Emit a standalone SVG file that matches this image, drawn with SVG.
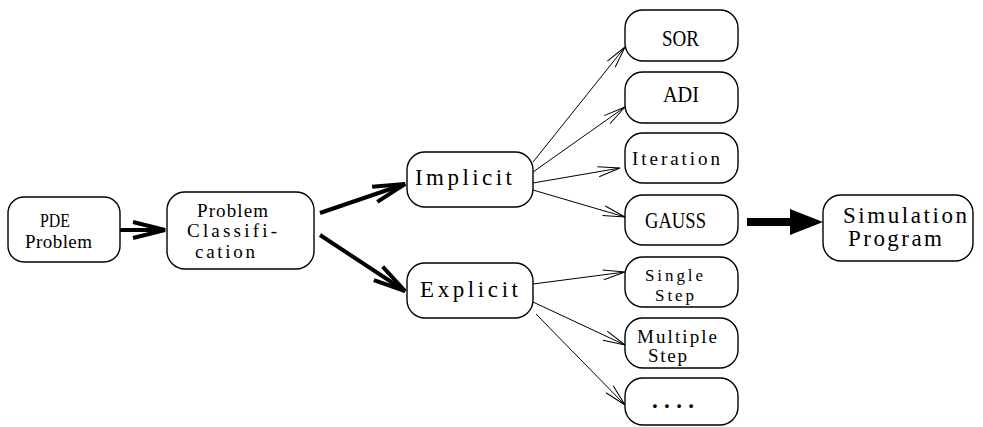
<svg xmlns="http://www.w3.org/2000/svg" width="983" height="427" viewBox="0 0 983 427">
<defs>
<style>
.box{fill:#fff;stroke:#000;stroke-width:1.4}
.t{font-family:"Liberation Serif","Times New Roman",serif;fill:#000}
.big{font-size:23px}
.sm{font-size:19px}
.xs{font-size:17px}
.thick{stroke:#000;stroke-width:4;fill:none;marker-end:url(#chev)}
.thin{stroke:#000;stroke-width:1;fill:none;marker-end:url(#barb)}
.heavy{stroke:#000;stroke-width:8;fill:none}
</style>
<marker id="chev" markerUnits="userSpaceOnUse" viewBox="-36 -12 40 24" markerWidth="40" markerHeight="24" refX="0" refY="0" orient="auto" overflow="visible">
<path d="M-32,-8 L0,0 L-32,8" fill="none" stroke="#000" stroke-width="4" stroke-linejoin="miter"/>
</marker>
<marker id="barb" markerUnits="userSpaceOnUse" viewBox="-24 -8 26 16" markerWidth="26" markerHeight="16" refX="0" refY="0" orient="auto" overflow="visible">
<path d="M-22,-5 L0,0 L-22,5" fill="none" stroke="#000" stroke-width="1"/>
</marker>
</defs>
<rect width="983" height="427" fill="#fff"/>

<g id="connectors">
<line class="thick" x1="120" y1="230" x2="165" y2="230"/>
<line class="thick" x1="320" y1="213" x2="405" y2="184"/>
<line class="thick" x1="320" y1="235" x2="405" y2="291"/>
<line class="thin" x1="533" y1="162" x2="625" y2="47"/>
<line class="thin" x1="533" y1="172" x2="625" y2="107"/>
<line class="thin" x1="533" y1="183" x2="620" y2="168"/>
<line class="thin" x1="533" y1="190" x2="625" y2="217"/>
<line class="thin" x1="533" y1="284" x2="625" y2="272"/>
<line class="thin" x1="533" y1="302" x2="625" y2="345"/>
<line class="thin" x1="536" y1="314" x2="625" y2="405"/>
<line class="heavy" x1="747" y1="222" x2="796" y2="222"/>
<polygon points="790,209 823,222 790,235" fill="#000"/>
</g>

<g id="pde">
<rect class="box" x="8" y="197" width="112" height="65" rx="16"/>
<text class="t sm" x="40" y="227" textLength="30" lengthAdjust="spacingAndGlyphs">PDE</text>
<text class="t sm" x="25" y="248" textLength="67" lengthAdjust="spacing">Problem</text>
</g>
<g id="classification">
<rect class="box" x="167" y="192" width="147" height="77" rx="18"/>
<text class="t sm" x="197" y="217" textLength="71" lengthAdjust="spacing">Problem</text>
<text class="t sm" x="187" y="237" textLength="90" lengthAdjust="spacing">Classifi-</text>
<text class="t sm" x="195" y="258" textLength="60" lengthAdjust="spacing">cation</text>
</g>
<g id="implicit">
<rect class="box" x="407" y="152" width="126" height="55" rx="18"/>
<text class="t big" x="415" y="185" textLength="97" lengthAdjust="spacing">Implicit</text>
</g>
<g id="explicit">
<rect class="box" x="407" y="263" width="126" height="55" rx="18"/>
<text class="t big" x="420" y="297" textLength="98" lengthAdjust="spacing">Explicit</text>
</g>
<g id="sor">
<rect class="box" x="625" y="10" width="113" height="51" rx="18"/>
<text class="t big" x="662" y="46" textLength="37" lengthAdjust="spacingAndGlyphs">SOR</text>
</g>
<g id="adi">
<rect class="box" x="625" y="72" width="113" height="51" rx="18"/>
<text class="t big" x="663" y="102" textLength="36" lengthAdjust="spacingAndGlyphs">ADI</text>
</g>
<g id="iteration">
<rect class="box" x="625" y="133" width="113" height="50" rx="18"/>
<text class="t sm" x="632" y="165" textLength="88" lengthAdjust="spacing">Iteration</text>
</g>
<g id="gauss">
<rect class="box" x="625" y="195" width="113" height="50" rx="18"/>
<text class="t big" x="645" y="228" textLength="61" lengthAdjust="spacingAndGlyphs">GAUSS</text>
</g>
<g id="single">
<rect class="box" x="625" y="257" width="113" height="50" rx="18"/>
<text class="t xs" x="645" y="281" textLength="58" lengthAdjust="spacing">Single</text>
<text class="t xs" x="655" y="301" textLength="39" lengthAdjust="spacing">Step</text>
</g>
<g id="multiple">
<rect class="box" x="625" y="318" width="113" height="50" rx="18"/>
<text class="t sm" x="637" y="343" textLength="80" lengthAdjust="spacing">Multiple</text>
<text class="t sm" x="648" y="362" textLength="39" lengthAdjust="spacing">Step</text>
</g>
<g id="more">
<rect class="box" x="625" y="378" width="113" height="47" rx="18"/>
<text class="t big" x="652" y="408" textLength="42" lengthAdjust="spacing" font-weight="bold">....</text>
</g>
<g id="simulation">
<rect class="box" x="823" y="195" width="150" height="66" rx="18"/>
<text class="t big" x="843" y="223" textLength="124" lengthAdjust="spacing">Simulation</text>
<text class="t big" x="848" y="246" textLength="94" lengthAdjust="spacing">Program</text>
</g>
</svg>
